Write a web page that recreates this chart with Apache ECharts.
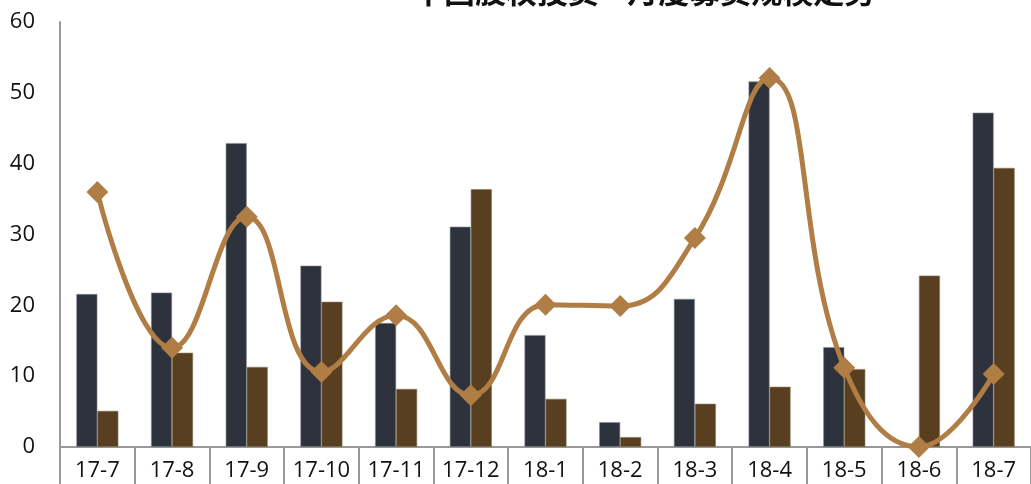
<!DOCTYPE html>
<html>
<head>
<meta charset="utf-8">
<script src="https://cdn.jsdelivr.net/npm/echarts@6/dist/echarts.min.js"></script>
<style>
html,body{margin:0;padding:0;background:#fff;}
#chart{width:1031px;height:484px;}
</style>
</head>
<body>
<div id="chart"></div>
<script>
var categories = ['17-7','17-8','17-9','17-10','17-11','17-12','18-1','18-2','18-3','18-4','18-5','18-6','18-7'];
var seriesA = [21.6, 21.8, 42.9, 25.6, 17.5, 31.1, 15.8, 3.5, 20.9, 51.6, 14.1, 0, 47.2];
var seriesB = [5.1, 13.3, 11.3, 20.5, 8.2, 36.4, 6.8, 1.4, 6.1, 8.5, 11.0, 24.2, 39.4];
var seriesLine = [36.0, 14.0, 32.5, 10.6, 18.6, 7.3, 20.1, 19.9, 29.5, 52.1, 11.2, 0, 10.3];
var yTicks = [0, 10, 20, 30, 40, 50, 60];

var chart = echarts.init(document.getElementById('chart'), null, {renderer:'canvas'});
var font = '"Open Sans", "Noto Sans", sans-serif';
chart.setOption({
  animation: false,
  backgroundColor: '#fff',
  title: {
    text: '中国股权投资—月度募资规模走势',
    left: 408,
    top: -29,
    textStyle: {fontSize: 31, fontWeight: 'bold', color: '#111', fontFamily: '"Noto Sans CJK SC", sans-serif'}
  },
  grid: {left: 60, top: 22, width: 975, height: 425, containLabel: false},
  xAxis: {
    type: 'category',
    data: categories,
    boundaryGap: true,
    axisLine: {show: true, lineStyle: {color: '#999', width: 2}},
    axisTick: {show: true, alignWithLabel: false, length: 42, lineStyle: {color: '#999', width: 2}},
    axisLabel: {fontSize: 22, color: '#111', margin: 13, fontFamily: font, interval: 0}
  },
  yAxis: {
    type: 'value',
    min: yTicks[0],
    max: yTicks[yTicks.length - 1],
    interval: 10,
    axisLine: {show: true, lineStyle: {color: '#999', width: 2}},
    axisTick: {show: false},
    splitLine: {show: false},
    axisLabel: {fontSize: 22, color: '#111', margin: 25, fontFamily: font}
  },
  series: [
    {
      type: 'bar', data: seriesA, barWidth: 21, barGap: '0%',
      itemStyle: {color: '#2d323c', borderColor: '#8a8d94', borderWidth: 0.6}
    },
    {
      type: 'bar', data: seriesB, barWidth: 21, barGap: '0%',
      itemStyle: {color: '#583f1f', borderColor: '#8d7a60', borderWidth: 0.6}
    },
    {
      type: 'line', data: seriesLine, smooth: 0.45, z: 5,
      symbol: 'diamond', symbolSize: 22,
      lineStyle: {color: '#b07d45', width: 5},
      itemStyle: {color: '#b07d45'}
    }
  ]
});
</script>
</body>
</html>
